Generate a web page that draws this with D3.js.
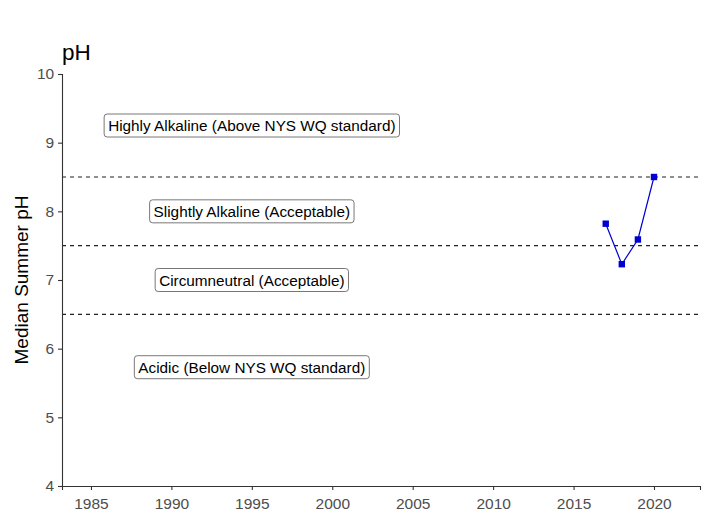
<!DOCTYPE html>
<html>
<head>
<meta charset="utf-8">
<script src="https://cdn.jsdelivr.net/npm/d3@7"></script>
<style>
  body { margin: 0; background: #fff; }
  svg { font-family: "Liberation Sans", Arial, sans-serif; }
</style>
</head>
<body>
<svg id="chart" width="715" height="517"></svg>
<script>
// data
var years = [2017, 2018, 2019, 2020];
var phValues = [7.82, 7.23, 7.59, 8.5];
var thresholds = [8.5, 7.5, 6.5];
var zoneLabels = ["Highly Alkaline (Above NYS WQ standard)", "Slightly Alkaline (Acceptable)",
                  "Circumneutral (Acceptable)", "Acidic (Below NYS WQ standard)"];
var zoneLabelY = [9.25, 8.0, 7.0, 5.73];
var zoneLabelX = 1995;
var xTicks = [1985, 1990, 1995, 2000, 2005, 2010, 2015, 2020];
var yTicks = [4, 5, 6, 7, 8, 9, 10];

var svg = d3.select("#chart");
var margin = {left: 62, right: 15, top: 74, bottom: 31};
var W = 715, H = 517;

var x = d3.scaleLinear()
          .domain([1983.2, 2022.86])
          .range([margin.left, W - margin.right]);
var y = d3.scaleLinear()
          .domain([4, 10])
          .range([H - margin.bottom, margin.top]);

// dashed threshold lines
svg.append("g").selectAll("line")
   .data(thresholds)
   .enter().append("line")
   .attr("x1", x.range()[0]).attr("x2", x.range()[1])
   .attr("y1", d => y(d)).attr("y2", d => y(d))
   .attr("stroke", "#222")
   .attr("stroke-width", 1.1)
   .attr("stroke-dasharray", "4,4");

// axes
var xAxis = svg.append("g")
   .attr("transform", "translate(0," + y(4) + ")")
   .call(d3.axisBottom(x).tickValues(xTicks).tickFormat(d3.format("d")).tickSizeOuter(0).tickSize(4));
var yAxis = svg.append("g")
   .attr("transform", "translate(" + x.range()[0] + ",0)")
   .call(d3.axisLeft(y).tickValues(yTicks).tickFormat(d3.format("d")).tickSizeOuter(0).tickSize(4));

[xAxis, yAxis].forEach(a => {
  a.select(".domain").attr("stroke", "#333").attr("stroke-width", 1.1);
  a.selectAll(".tick line").attr("stroke", "#333").attr("stroke-width", 1.1);
  a.selectAll(".tick text").attr("fill", "#4d4d4d").style("font-size", "15.5px")
   .style("font-family", "Liberation Sans, Arial, sans-serif");
});
xAxis.selectAll(".tick text").attr("dy", "1.0em");
yAxis.selectAll(".tick text").attr("dx", "-0.05em");

// zone labels
var lab = svg.append("g").selectAll("g")
   .data(zoneLabels)
   .enter().append("g")
   .attr("transform", (d, i) => "translate(" + x(zoneLabelX) + "," + y(zoneLabelY[i]) + ")");
lab.append("text")
   .attr("text-anchor", "middle")
   .attr("dy", "0.36em")
   .style("font-size", "15.3px")
   .attr("fill", "#000")
   .text(d => d);
lab.each(function() {
  var g = d3.select(this);
  var bb = g.select("text").node().getBBox();
  g.insert("rect", "text")
   .attr("x", bb.x - 4).attr("y", -11.5)
   .attr("width", bb.width + 8).attr("height", 23)
   .attr("rx", 3).attr("ry", 3)
   .attr("fill", "#fff")
   .attr("stroke", "#555")
   .attr("stroke-width", 0.8);
});

// series
var pts = years.map((d, i) => [d, phValues[i]]);
svg.append("path")
   .datum(pts)
   .attr("fill", "none")
   .attr("stroke", "#0000d0")
   .attr("stroke-width", 1.2)
   .attr("d", d3.line().x(d => x(d[0])).y(d => y(d[1])));
svg.append("g").selectAll("rect")
   .data(pts)
   .enter().append("rect")
   .attr("x", d => x(d[0]) - 3.2).attr("y", d => y(d[1]) - 3.2)
   .attr("width", 6.4).attr("height", 6.4)
   .attr("fill", "#0000d0");

// titles
svg.append("text")
   .attr("x", 62).attr("y", 60)
   .style("font-size", "22.5px")
   .text("pH");
svg.append("text")
   .attr("transform", "translate(28," + ((y(4) + y(10)) / 2) + ") rotate(-90)")
   .attr("text-anchor", "middle")
   .style("font-size", "19px")
   .text("Median Summer pH");
</script>
</body>
</html>
